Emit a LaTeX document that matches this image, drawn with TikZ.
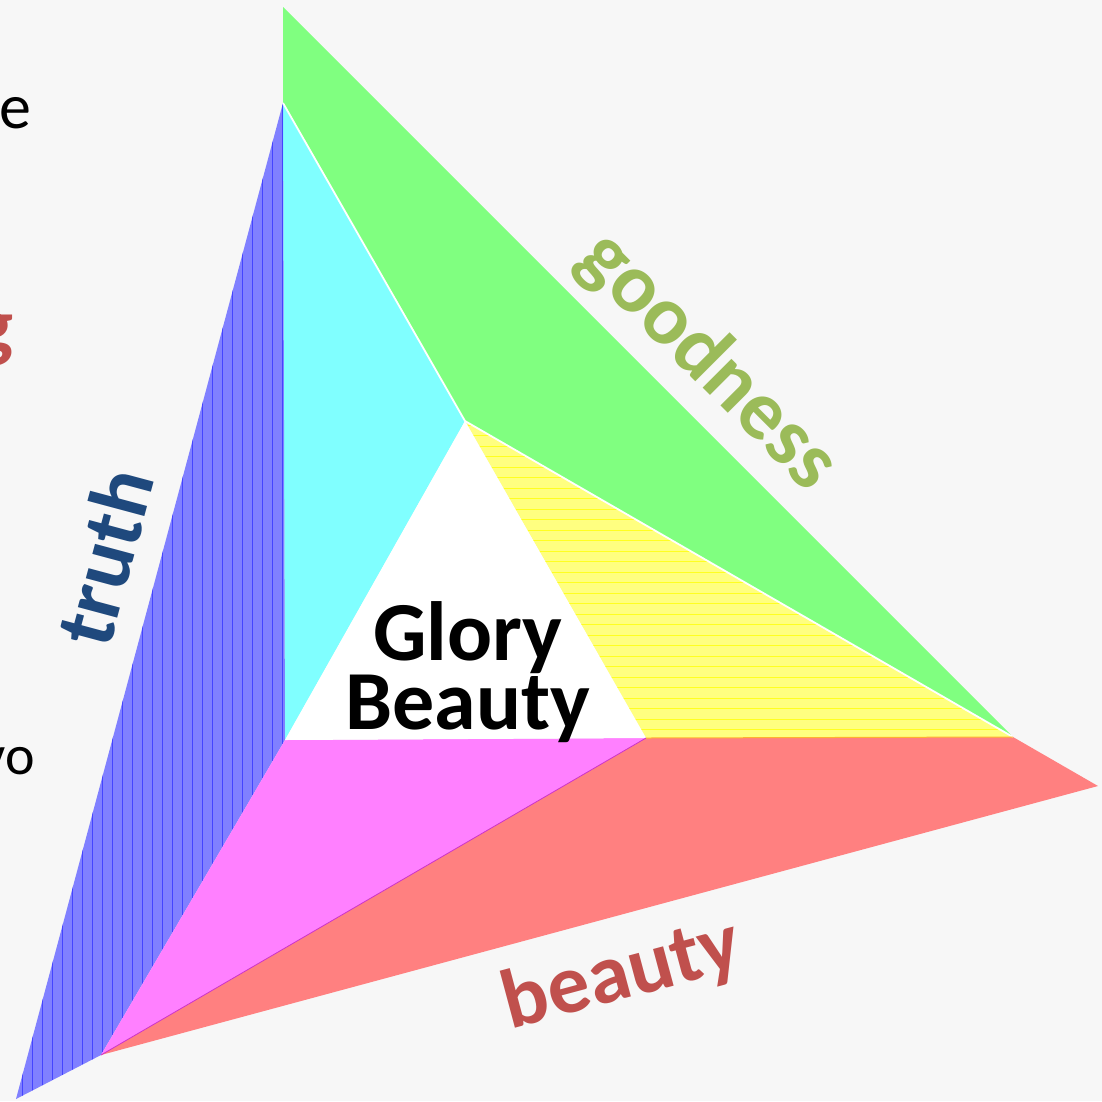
\documentclass[tikz,border=0pt]{standalone}
\usepackage{fontspec}
\setmainfont{Carlito}
\definecolor{bg}{HTML}{F7F7F7}
\definecolor{goodc}{HTML}{9BBB59}
\definecolor{truthc}{HTML}{1F497D}
\definecolor{beautyc}{HTML}{C0504D}
\definecolor{fgreen}{HTML}{80FF80}
\definecolor{fcyan}{HTML}{80FFFF}
\definecolor{fblue}{HTML}{8080FF}
\definecolor{fmag}{HTML}{FF80FF}
\definecolor{fred}{HTML}{FF8080}
\definecolor{fyel}{HTML}{FFFF80}
\definecolor{lblue}{HTML}{4444FF}
\definecolor{lyel}{HTML}{FFFF20}
\definecolor{seammag}{HTML}{CC33CC}
\definecolor{seamorg}{HTML}{FFB030}
\tikzset{
  face/.style={draw=none},
  bigword/.style={font=\bfseries\fontsize{84}{62}\selectfont, inner sep=0pt},
  frag/.style={font=\fontsize{64}{64}\selectfont, inner sep=0pt, anchor=base east},
}
\begin{document}
\begin{tikzpicture}[x=1pt,y=-1pt]
\fill[bg] (0,0) rectangle (1102,1101);
\useasboundingbox (0,0) rectangle (1102,1101);
% key points
\coordinate (Gt) at (283,7);
\coordinate (A) at (283,103);
\coordinate (C) at (465,421);
\coordinate (R) at (1013,737);
\coordinate (M) at (646,738);
\coordinate (L) at (285,740);
\coordinate (P) at (101,1055);
\coordinate (B) at (16,1099);
\coordinate (Rt) at (1098,786);
% faces
\fill[face, fgreen] (Gt) -- (R) -- (C) -- (A) -- cycle;
\fill[face, fcyan] (A) -- (C) -- (L) -- cycle;
\fill[face, fblue] (A) -- (L) -- (P) -- (B) -- cycle;
\begin{scope}
  \clip (A) -- (L) -- (P) -- (B) -- cycle;
  \foreach \x in {12.7,22.7,...,290} \draw[lblue, line width=1pt] (\x,90) -- (\x,1101);
\end{scope}
\fill[face, fmag] (L) -- (M) -- (P) -- cycle;
\fill[face, fred] (M) -- (R) -- (Rt) -- (P) -- cycle;
\fill[face, fyel] (C) -- (R) -- (M) -- cycle;
\begin{scope}
  \clip (C) -- (R) -- (M) -- cycle;
  \foreach \y in {425,435.5,...,740} \draw[lyel, line width=1pt] (400,\y) -- (1020,\y);
\end{scope}
\fill[white] (C) -- (M) -- (L) -- cycle;
% seams
\draw[white, line width=1.8pt] (A) -- (C) -- (R);
\draw[seammag, line width=0.8pt] (M) -- (P);
\draw[seamorg, line width=1pt] (M) -- (R);
% labels
\node[bigword, text=goodc, rotate=-45] (good) at (708,362) {goodness};
\node[bigword, text=truthc, rotate=75] (truth) at (104,557) {truth};
\node[bigword, text=beautyc, rotate=15] (beauty) at (622,976) {beauty};
\node[bigword, text=black, align=center] (glory) at (468,672) {Glory\\Beauty};
% cut-off fragments at left edge
\node[frag, text=black] (fe) at (32,128) {e};
\node[frag, text=beautyc, font=\bfseries\fontsize{80}{80}\selectfont] (fg) at (14,352) {g};
\node[frag, text=black, font=\fontsize{56}{56}\selectfont] (fvo) at (35,774) {vo};
\end{tikzpicture}
\end{document}
